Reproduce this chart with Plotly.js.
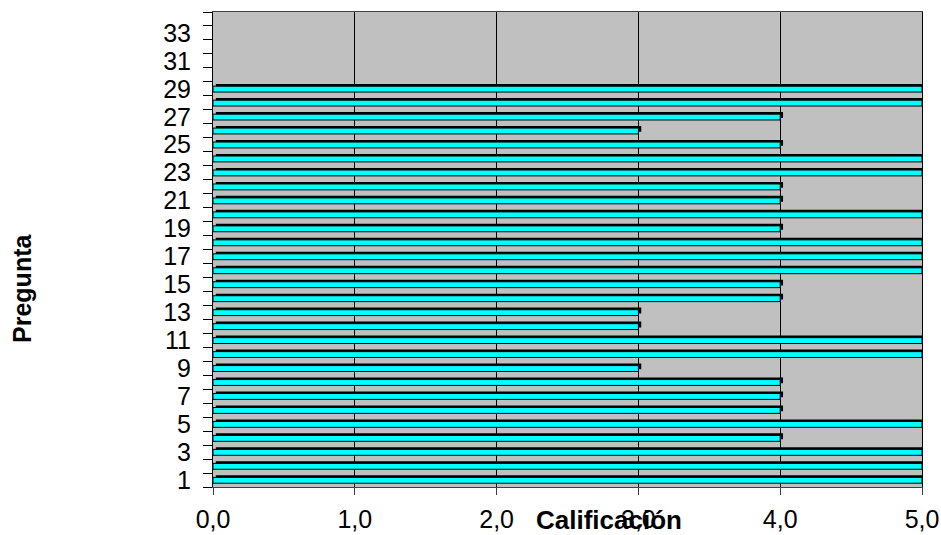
<!DOCTYPE html>
<html>
<head>
<meta charset="utf-8">
<script src="https://cdn.plot.ly/plotly-3.0.1.min.js"></script>
<style>html,body{margin:0;padding:0;background:#fff;}#chart{width:941px;height:535px;}</style>
</head>
<body>
<div id="chart"></div>
<script>
// Data
const preguntas = [1,2,3,4,5,6,7,8,9,10,11,12,13,14,15,16,17,18,19,20,21,22,23,24,25,26,27,28,29];
const calificacion = [5,5,5,4,5,4,4,4,3,5,5,3,3,4,4,5,5,5,4,5,4,4,5,5,4,3,4,5,5];
const yTickVals = [1,3,5,7,9,11,13,15,17,19,21,23,25,27,29,31,33];
const yTickText = yTickVals.map(String);
const xTickVals = [0,1,2,3,4,5];

const FONT = 'Liberation Sans, Arial, sans-serif';

const shadow = {
  type: 'bar', orientation: 'h',
  y: preguntas, x: calificacion,
  base: 0.02,
  width: 0.42, offset: -0.08,
  marker: {color: '#000000', line: {width: 0}},
  hoverinfo: 'skip', showlegend: false
};
const main = {
  type: 'bar', orientation: 'h',
  y: preguntas, x: calificacion,
  width: 0.42, offset: -0.23,
  marker: {color: '#00FFFF', line: {color: '#000000', width: 1}},
  showlegend: false
};

const layout = {
  width: 941, height: 535,
  margin: {l: 213, r: 19, t: 12, b: 48},
  paper_bgcolor: '#ffffff',
  plot_bgcolor: '#C0C0C0',
  separators: ',.',
  barmode: 'overlay',
  font: {family: FONT, color: '#000'},
  xaxis: {
    range: [0, 5], tickvals: xTickVals, tickformat: '.1f',
    showgrid: true, gridcolor: '#000000', gridwidth: 1,
    zeroline: false,
    showline: true, linecolor: '#404040', linewidth: 1, mirror: true,
    ticks: 'outside', ticklen: 7, tickcolor: '#404040',
    ticklabelstandoff: 3,
    ticklabeloverflow: 'allow',
    tickfont: {size: 25, family: FONT}
  },
  yaxis: {
    range: [0.5, 34.5], tickmode: 'array', tickvals: yTickVals, ticktext: yTickText,
    showgrid: false, zeroline: false,
    showline: true, linecolor: '#000000', linewidth: 1, mirror: true,
    ticks: '',
    minor: {tick0: 0.5, dtick: 1, ticks: 'outside', ticklen: 9, tickcolor: '#000000', tickwidth: 1, showgrid: false},
    ticklabelstandoff: 16,
    ticklabeloverflow: 'allow',
    tickfont: {size: 25, family: FONT}
  },
  annotations: [{
    text: '<b>Calificación</b>', xref: 'paper', yref: 'paper',
    x: 0.558, y: 0, yshift: -33, xanchor: 'center', yanchor: 'middle',
    showarrow: false, font: {size: 26, family: FONT, color: '#000'}
  }, {
    text: '<b>Pregunta</b>', xref: 'paper', yref: 'paper',
    x: -0.2694, y: 0.419, xanchor: 'center', yanchor: 'middle', textangle: -90,
    showarrow: false, font: {size: 25, family: FONT, color: '#000'}
  }]
};

Plotly.newPlot('chart', [shadow, main], layout, {displayModeBar: false, staticPlot: true});
</script>
</body>
</html>
